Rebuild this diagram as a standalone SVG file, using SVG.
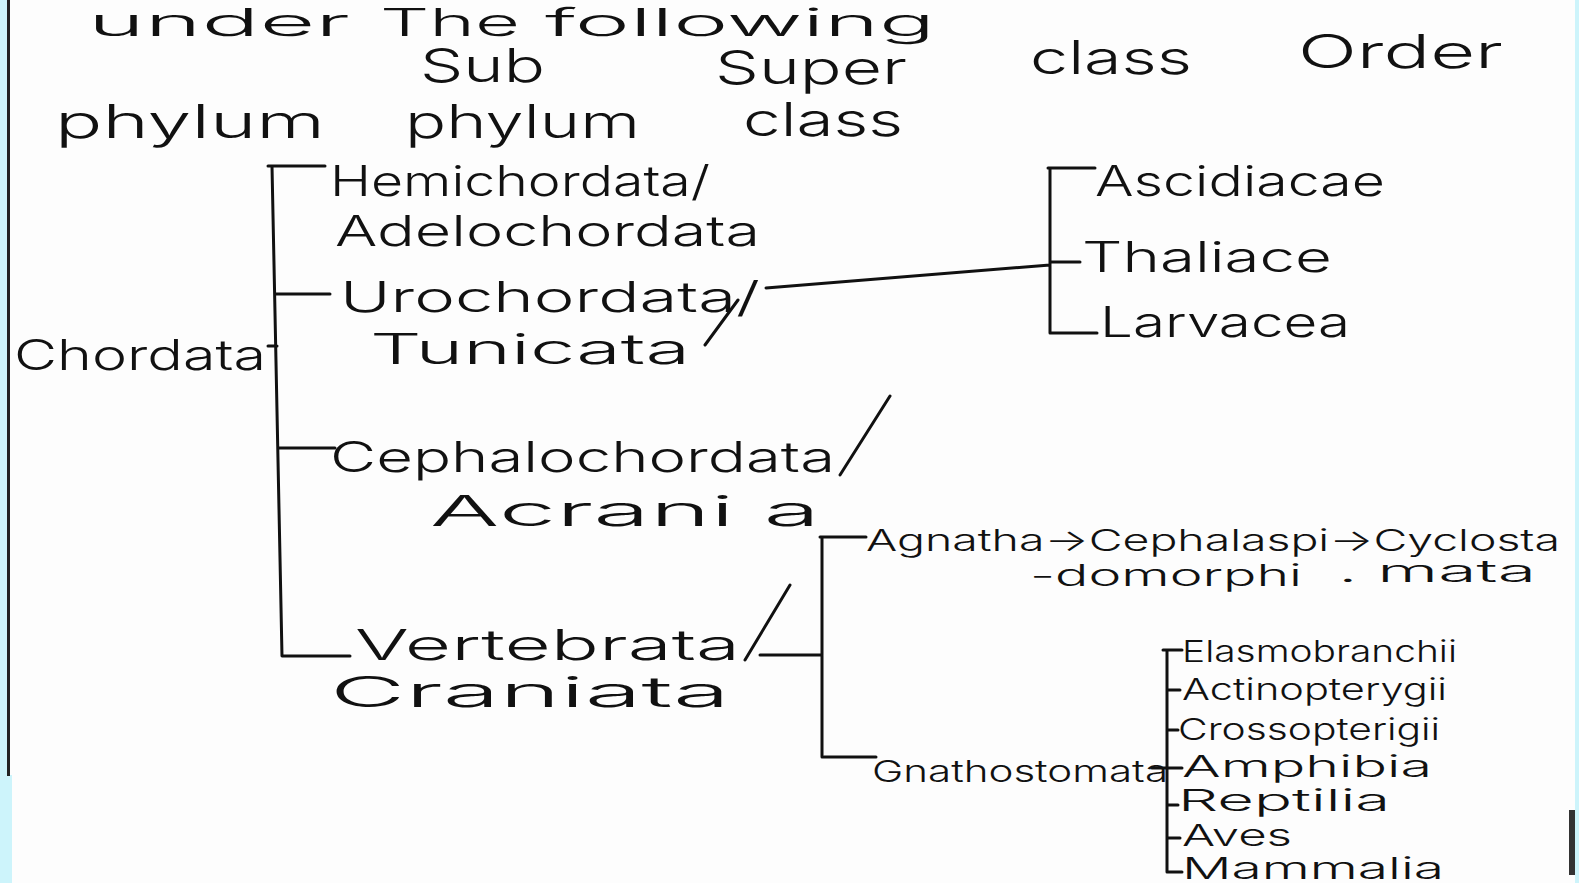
<svg xmlns="http://www.w3.org/2000/svg" width="1579" height="883" viewBox="0 0 1579 883">
<defs>
<style>
.t{font-family:Inter,Lato,"Liberation Sans",sans-serif;font-weight:300;fill:#111;}
.ti{font-size:38px;}
.h{font-size:46px;}
.m{font-size:42px;}
.s{font-size:30px;}
.ln{stroke:#111;stroke-width:3;fill:none;stroke-linecap:round;stroke-linejoin:round;}
</style>
</defs>
<rect x="0" y="0" width="1579" height="883" fill="#fdfdfd"/>

<g id="title">
<text class="t ti" x="88" y="36" textLength="262" lengthAdjust="spacingAndGlyphs">under</text>
<text class="t ti" x="380" y="36" textLength="140" lengthAdjust="spacingAndGlyphs">The</text>
<text class="t ti" x="545" y="36" textLength="390" lengthAdjust="spacingAndGlyphs">following</text>
</g>

<g id="headers">
<text class="t h" x="420" y="82" textLength="125" lengthAdjust="spacingAndGlyphs">Sub</text>
<text class="t h" x="715" y="84" textLength="192" lengthAdjust="spacingAndGlyphs">Super</text>
<text class="t h" x="1030" y="74" textLength="162" lengthAdjust="spacingAndGlyphs">class</text>
<text class="t h" x="1298" y="68" textLength="205" lengthAdjust="spacingAndGlyphs">Order</text>
<text class="t h" x="55" y="138" textLength="270" lengthAdjust="spacingAndGlyphs">phylum</text>
<text class="t h" x="405" y="138" textLength="235" lengthAdjust="spacingAndGlyphs">phylum</text>
<text class="t h" x="743" y="136" textLength="160" lengthAdjust="spacingAndGlyphs">class</text>
</g>

<g id="connectors">
<path class="ln" d="M268 166 H325 M272 166 L282 656 H350 M275 294 H330 M268 346 H277 M278 448 H335"/>
<path class="ln" d="M766 288 L1050 265 M1050 168 V333 M1048 168 H1095 M1050 262 H1080 M1050 333 H1097"/>
<path class="ln" d="M760 655 H822 M822 537 V757 M820 537 H866 M824 757 H876"/>
<path class="ln" d="M1167 650 V872 M1163 650 H1182 M1167 690 H1180 M1167 730 H1178 M1167 768 H1182 M1167 805 H1178 M1167 838 H1180 M1167 872 H1182 M1152 768 H1167"/>
<path class="ln" d="M705 345 L738 300 M840 475 L890 396 M745 660 L790 585"/>
</g>

<g id="n-chordata">
<text class="t m" x="14" y="370" textLength="252" lengthAdjust="spacingAndGlyphs">Chordata</text>
</g>
<g id="n-hemichordata">
<text class="t m" x="330" y="196" textLength="380" lengthAdjust="spacingAndGlyphs">Hemichordata/</text>
<text class="t m" x="335" y="246" textLength="425" lengthAdjust="spacingAndGlyphs">Adelochordata</text>
</g>
<g id="n-urochordata">
<text class="t m" x="340" y="312" textLength="420" lengthAdjust="spacingAndGlyphs">Urochordata/</text>
<text class="t m" x="370" y="364" textLength="320" lengthAdjust="spacingAndGlyphs">Tunicata</text>
</g>
<g id="n-cephalochordata">
<text class="t m" x="330" y="472" textLength="505" lengthAdjust="spacingAndGlyphs">Cephalochordata</text>
<text class="t m" x="430" y="526" textLength="390" lengthAdjust="spacingAndGlyphs">Acrani a</text>
</g>
<g id="n-vertebrata">
<text class="t m" x="355" y="660" textLength="385" lengthAdjust="spacingAndGlyphs">Vertebrata</text>
<text class="t m" x="330" y="707" textLength="400" lengthAdjust="spacingAndGlyphs">Craniata</text>
</g>
<g id="n-ascidiacae"><text class="t m" x="1095" y="196" textLength="290" lengthAdjust="spacingAndGlyphs">Ascidiacae</text></g>
<g id="n-thaliace"><text class="t m" x="1082" y="272" textLength="250" lengthAdjust="spacingAndGlyphs">Thaliace</text></g>
<g id="n-larvacea"><text class="t m" x="1100" y="337" textLength="250" lengthAdjust="spacingAndGlyphs">Larvacea</text></g>
<g id="n-agnatha">
<text class="t s" x="866" y="551" textLength="694" lengthAdjust="spacingAndGlyphs">Agnatha→Cephalaspi→Cyclosta</text>
<text class="t s" x="1030" y="586" textLength="272" lengthAdjust="spacingAndGlyphs">-domorphi</text>
<text class="t s" x="1338" y="582" textLength="198" lengthAdjust="spacingAndGlyphs">. mata</text>
</g>
<g id="n-gnathostomata"><text class="t s" x="872" y="782" textLength="296" lengthAdjust="spacingAndGlyphs">Gnathostomata</text></g>
<g id="n-elasmobranchii"><text class="t s" x="1182" y="662" textLength="275" lengthAdjust="spacingAndGlyphs">Elasmobranchii</text></g>
<g id="n-actinopterygii"><text class="t s" x="1182" y="700" textLength="265" lengthAdjust="spacingAndGlyphs">Actinopterygii</text></g>
<g id="n-crossopterigii"><text class="t s" x="1178" y="740" textLength="262" lengthAdjust="spacingAndGlyphs">Crossopterigii</text></g>
<g id="n-amphibia"><text class="t s" x="1182" y="777" textLength="250" lengthAdjust="spacingAndGlyphs">Amphibia</text></g>
<g id="n-reptilia"><text class="t s" x="1178" y="811" textLength="212" lengthAdjust="spacingAndGlyphs">Reptilia</text></g>
<g id="n-aves"><text class="t s" x="1182" y="846" textLength="110" lengthAdjust="spacingAndGlyphs">Aves</text></g>
<g id="n-mammalia"><text class="t s" x="1182" y="879" textLength="262" lengthAdjust="spacingAndGlyphs">Mammalia</text></g>

<g id="edges">
<rect x="0" y="0" width="8" height="883" fill="#cdf4fb"/>
<rect x="0" y="775" width="12" height="108" fill="#cdf4fb"/>
<rect x="7" y="0" width="3" height="776" fill="#222"/>
<rect x="1575" y="0" width="4" height="883" fill="#cdf4fb"/>
<rect x="1569" y="810" width="6" height="65" fill="#333"/>
</g>
</svg>
